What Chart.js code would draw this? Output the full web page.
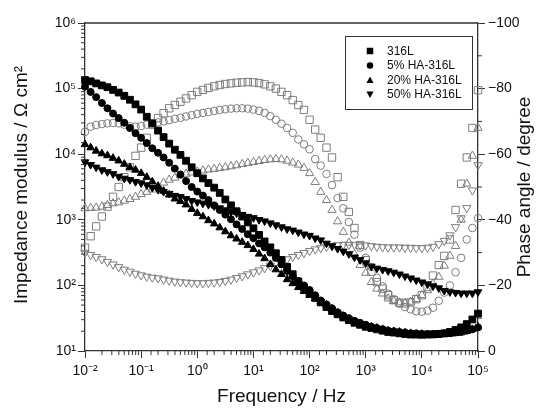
<!DOCTYPE html>
<html>
<head>
<meta charset="utf-8">
<script src="https://cdn.jsdelivr.net/npm/chart.js@4.4.1/dist/chart.umd.min.js"></script>
<style>
  html, body { margin: 0; padding: 0; background: #fff; }
  #wrap { width: 541px; height: 410px; }
</style>
</head>
<body>
<div id="wrap"><canvas id="bode" width="541" height="410"></canvas></div>
<script>
// Frequencies (Hz), 10 points per decade
const frequency = [
  0.01, 0.0126, 0.0158, 0.02, 0.0251, 0.0316, 0.0398, 0.0501, 0.0631, 0.0794,
  0.1, 0.126, 0.158, 0.2, 0.251, 0.316, 0.398, 0.501, 0.631, 0.794,
  1, 1.26, 1.58, 2, 2.51, 3.16, 3.98, 5.01, 6.31, 7.94,
  10, 12.6, 15.8, 20, 25.1, 31.6, 39.8, 50.1, 63.1, 79.4,
  100, 126, 158, 200, 251, 316, 398, 501, 631, 794,
  1000, 1260, 1580, 2000, 2510, 3160, 3980, 5010, 6310, 7940,
  10000, 12600, 15800, 20000, 25100, 31600, 39800, 50100, 63100, 79400,
  100000
];

// Impedance modulus (Ohm cm2)
const modulus316L = [
  135000, 129000, 120000, 112000, 105000, 95500, 87100, 77600, 67600, 57500,
  47900, 37200, 29500, 22900, 18200, 14500, 11700, 9770, 7940, 6310,
  5130, 4270, 3630, 3090, 2570, 2040, 1660, 1350, 1120, 912,
  741, 589, 468, 380, 309, 245, 191, 148, 115, 93.3,
  77.6, 64.6, 55.0, 46.8, 40.7, 36.3, 32.4, 29.5, 26.9, 25.1,
  23.4, 22.4, 21.4, 20.4, 19.5, 19.1, 18.6, 18.2, 17.8, 17.8,
  17.7, 17.8, 17.9, 18.2, 18.6, 19.5, 20.9, 22.9, 25.7, 30.2,
  37.2
];
const modulusHA5 = [
  107000, 89100, 74100, 60300, 50100, 41700, 35500, 30200, 25100, 20900,
  17800, 14800, 12300, 10500, 8910, 7410, 6030, 4900, 3890, 3160,
  2690, 2340, 2000, 1660, 1410, 1200, 1020, 851, 724, 603,
  525, 437, 380, 316, 263, 209, 166, 138, 117, 100,
  85.1, 70.8, 58.9, 51.3, 44.7, 38.9, 34.7, 31.6, 28.8, 26.9,
  25.1, 23.4, 22.4, 21.4, 20.4, 20.0, 19.5, 19.1, 18.6, 18.5,
  18.2, 18.1, 18.2, 18.3, 18.6, 18.7, 19.1, 19.5, 20.4, 21.4,
  22.9
];
const modulusHA20 = [
  14100, 12600, 11200, 10200, 9550, 8710, 7940, 7080, 6310, 5750,
  5130, 4470, 3800, 3240, 2750, 2400, 2090, 1910, 1700, 1450,
  1260, 1120, 977, 871, 759, 661, 575, 513, 457, 407,
  355, 302, 257, 209, 174, 148, 123, 107, 93.3, 81.3,
  70.8, 63.1, 56.2, 50.1, 43.7, 38.0, 33.9, 30.9, 28.2, 26.3,
  24.5, 23.4, 22.4, 21.4, 20.4, 19.9, 19.5, 19.0, 18.6, 18.2,
  18.1, 17.8, 17.7, 17.8, 17.9, 18.2, 18.6, 19.1, 20.0, 21.4,
  23.4
];
const modulusHA50 = [
  7590, 6920, 6310, 5750, 5370, 5010, 4570, 4270, 4070, 3800,
  3630, 3390, 3090, 2880, 2690, 2510, 2340, 2240, 2090, 1950,
  1860, 1780, 1700, 1620, 1510, 1410, 1320, 1260, 1200, 1120,
  1070, 1000, 955, 891, 832, 776, 724, 692, 646, 603,
  575, 525, 490, 437, 398, 363, 331, 302, 269, 245,
  219, 195, 182, 174, 166, 158, 148, 138, 129, 120,
  112, 105, 97.7, 91.2, 83.2, 79.4, 77.6, 75.9, 75.9, 75.9,
  79.4
];

// Phase angle (degree)
const phase316L = [
  -31.5, -35, -38, -41, -44, -47, -50, -53, -56, -59.5,
  -62, -65, -69, -71, -72.5, -74, -75, -76, -77, -78,
  -79, -79.6, -80.2, -80.7, -81.1, -81.4, -81.6, -81.8, -81.9, -82,
  -81.9, -81.7, -81.3, -80.7, -80, -79, -78, -76.5, -75, -73.5,
  -70.5, -67.5, -65, -62, -59, -53, -47, -42.4, -37.5, -32.3,
  -27.7, -24.2, -21, -19, -17, -15.5, -14.7, -14.5, -14.8, -15.8,
  -17, -19.5, -23, -26.2, -29, -34, -43, -51, -59, -68,
  -79.5
];
const phaseHA5 = [
  -66.8, -68.4, -68.9, -69.2, -69.4, -69.5, -69.4, -69, -68.5, -68.4,
  -68.6, -69, -69.4, -69.7, -70, -70.4, -70.8, -71.1, -71.5, -71.9,
  -72.3, -72.6, -72.9, -73.2, -73.5, -73.7, -73.9, -74, -74, -73.9,
  -73.6, -73.2, -72.6, -71.6, -70.5, -69.3, -68, -66.5, -64.5, -63,
  -61.5, -58.5, -56.5, -54, -50.6, -46.6, -43.5, -39.3, -35.5, -31.5,
  -28.4, -25.6, -22.3, -19.7, -17.5, -15.8, -14.4, -13.4, -12.7, -12.1,
  -12, -12.3, -13.2, -15.3, -17.8, -20, -24, -28.4, -34, -37.5,
  -40.5
];
const phaseHA20 = [
  -43.5, -43.6, -43.7, -44, -44.5, -45, -45.3, -45.8, -46.3, -47,
  -47.8, -48.5, -49.2, -50.2, -51.3, -52.2, -52.8, -53.5, -54, -54.4,
  -54.7, -55, -55.3, -55.5, -55.8, -56, -56.3, -56.6, -57, -57.3,
  -57.6, -57.9, -58.2, -58.4, -58.5, -58.4, -58, -57.4, -56.8, -55.8,
  -54.2, -51.5, -48.5, -46, -43, -39.5, -36.3, -33, -29.5, -26.2,
  -23.8, -21, -19, -17.5, -16, -15.2, -14.8, -14.7, -15, -15.8,
  -17, -18.5, -20.5, -22.6, -26, -29, -32, -40, -51, -59.5,
  -68
];
const phaseHA50 = [
  -30, -29.3, -28.7, -28, -27.2, -26.4, -25.6, -24.8, -24.2, -23.6,
  -23.1, -22.7, -22.4, -22.2, -21.8, -21.5, -21.2, -21, -20.9, -20.8,
  -20.7, -20.7, -20.8, -20.9, -21.1, -21.4, -21.8, -22.3, -22.8, -23.4,
  -24, -24.6, -25.3, -26, -26.7, -27.3, -28, -28.7, -29.3, -29.9,
  -30.5, -31, -31.4, -31.8, -32.1, -32.3, -32.4, -32.4, -32.4, -32.3,
  -32.2, -32, -31.8, -31.7, -31.6, -31.6, -31.6, -31.5, -31.5, -31.4,
  -31.4, -31.5, -31.8, -32.6, -33.6, -35.3, -37.8, -40.5, -43.6, -49,
  -56.7
];

const sampleNames = ['316L', '5% HA-316L', '20% HA-316L', '50% HA-316L'];

// Tick labels
const freqDecades = [0.01, 0.1, 1, 10, 100, 1000, 10000, 100000];
const freqDecadeLabels = ['10⁻²', '10⁻¹', '10⁰', '10¹', '10²', '10³', '10⁴', '10⁵'];
const modulusDecades = [10, 100, 1000, 10000, 100000, 1000000];
const modulusDecadeLabels = ['10¹', '10²', '10³', '10⁴', '10⁵', '10⁶'];
const phaseLabelTicks = [-100, -80, -60, -40, -20, 0];
const phaseTickLabels = ['−100', '−80', '−60', '−40', '−20', '0'];

const FONT = "'Liberation Sans', Arial, sans-serif";
const AXIS_COLOR = '#333';
const TEXT_COLOR = '#111';
const OPEN_COLOR = '#7d7d7d';

// marker shapes per sample
const shapes = [
  { style: 'rect', rot: 0, r: 4.8, rOpen: 5.2 },
  { style: 'circle', rot: 0, r: 3.5, rOpen: 3.8 },
  { style: 'triangle', rot: 0, r: 4.4, rOpen: 4.8 },
  { style: 'triangle', rot: 180, r: 4.4, rOpen: 4.8 }
];

function toPoints(ys) {
  return frequency.map((f, i) => ({ x: f, y: ys[i] }));
}

function isDecade(v) {
  const l = Math.log10(v);
  return Math.abs(l - Math.round(l)) < 1e-6;
}

function decadeLabel(v, decades, labels) {
  const i = decades.findIndex(d => Math.abs(Math.log10(d) - Math.log10(v)) < 1e-6);
  return i >= 0 ? labels[i] : '';
}

const modulusSeries = [modulus316L, modulusHA5, modulusHA20, modulusHA50];
const phaseSeries = [phase316L, phaseHA5, phaseHA20, phaseHA50];

const datasets = [];
modulusSeries.forEach((ys, i) => {
  datasets.push({
    label: sampleNames[i],
    data: toPoints(ys),
    yAxisID: 'y',
    pointStyle: shapes[i].style,
    rotation: shapes[i].rot,
    pointRadius: shapes[i].r,
    backgroundColor: '#000',
    borderColor: '#000',
    borderWidth: 1,
    clip: false
  });
});
phaseSeries.forEach((ys, i) => {
  datasets.push({
    label: sampleNames[i] + ' phase',
    data: toPoints(ys),
    yAxisID: 'y2',
    pointStyle: shapes[i].style,
    rotation: shapes[i].rot,
    pointRadius: shapes[i].rOpen,
    backgroundColor: 'rgba(255,255,255,0)',
    borderColor: OPEN_COLOR,
    borderWidth: 1,
    clip: false
  });
});

// draws a legend symbol
function drawSymbol(ctx, shape, x, y, size) {
  ctx.beginPath();
  if (shape.style === 'rect') {
    ctx.rect(x - size / 2, y - size / 2, size, size);
  } else if (shape.style === 'circle') {
    ctx.arc(x, y, size / 2, 0, Math.PI * 2);
  } else {
    const dir = shape.rot === 180 ? -1 : 1;
    ctx.moveTo(x, y - dir * size * 0.55);
    ctx.lineTo(x + size * 0.55, y + dir * size * 0.45);
    ctx.lineTo(x - size * 0.55, y + dir * size * 0.45);
    ctx.closePath();
  }
  ctx.fill();
}

function drawMinorTicks(ctx, scale, isMajor, len) {
  scale.ticks.forEach(t => {
    if (isMajor(t.value)) return;
    const p = scale.getPixelForValue(t.value);
    ctx.beginPath();
    if (scale.isHorizontal()) {
      ctx.moveTo(p, scale.top);
      ctx.lineTo(p, scale.top + len);
    } else if (scale.position === 'left') {
      ctx.moveTo(scale.right, p);
      ctx.lineTo(scale.right - len, p);
    } else {
      ctx.moveTo(scale.left, p);
      ctx.lineTo(scale.left + len, p);
    }
    ctx.stroke();
  });
}

const bodeDecor = {
  id: 'bodeDecor',
  afterDraw(chart) {
    const { ctx, chartArea: a, scales } = chart;
    ctx.save();

    // top frame line
    ctx.strokeStyle = AXIS_COLOR;
    ctx.lineWidth = 1.3;
    ctx.beginPath();
    ctx.moveTo(a.left, a.top);
    ctx.lineTo(a.right, a.top);
    ctx.stroke();

    // minor ticks
    ctx.lineWidth = 1;
    drawMinorTicks(ctx, scales.x, isDecade, 4);
    drawMinorTicks(ctx, scales.y, isDecade, 4);
    drawMinorTicks(ctx, scales.y2, v => v % 20 === 0, 4);

    // axis titles
    ctx.fillStyle = TEXT_COLOR;
    ctx.font = '19px ' + FONT;
    ctx.textAlign = 'center';
    ctx.textBaseline = 'middle';
    ctx.fillText('Frequency / Hz', (a.left + a.right) / 2, 397);

    const midY = (a.top + a.bottom) / 2;
    ctx.save();
    ctx.translate(22, midY - 2);
    ctx.rotate(-Math.PI / 2);
    ctx.fillText('Impedance modulus / Ω cm²', 0, 0);
    ctx.restore();

    ctx.save();
    ctx.translate(525, midY);
    ctx.rotate(-Math.PI / 2);
    ctx.fillText('Phase angle / degree', 0, 0);
    ctx.restore();

    // legend
    const lx = a.right - 133, ly = a.top + 13, lw = 127, lh = 73;
    ctx.strokeStyle = AXIS_COLOR;
    ctx.lineWidth = 1;
    ctx.strokeRect(lx + 0.5, ly + 0.5, lw, lh);
    ctx.font = '12px ' + FONT;
    ctx.textAlign = 'left';
    sampleNames.forEach((name, i) => {
      const yy = ly + 15 + i * 14.5;
      ctx.fillStyle = '#000';
      drawSymbol(ctx, shapes[i], lx + 25, yy, 6.5);
      ctx.fillStyle = TEXT_COLOR;
      ctx.fillText(name, lx + 42, yy + 0.5);
    });

    ctx.restore();
  }
};

const tickFont = { family: FONT, size: 14 };

new Chart(document.getElementById('bode'), {
  type: 'scatter',
  data: { datasets },
  options: {
    responsive: false,
    animation: false,
    layout: { padding: { top: 23, left: 0, right: 0, bottom: 0 } },
    plugins: { legend: { display: false }, tooltip: { enabled: false } },
    scales: {
      x: {
        type: 'logarithmic',
        position: 'bottom',
        min: 0.01,
        max: 100000,
        afterFit: s => { s.height = 59; },
        border: { color: AXIS_COLOR, width: 1.3 },
        grid: {
          drawOnChartArea: false,
          tickLength: 7,
          tickColor: c => (c.tick && isDecade(c.tick.value)) ? AXIS_COLOR : 'rgba(0,0,0,0)'
        },
        ticks: {
          autoSkip: false, maxRotation: 0, minRotation: 0, padding: 5,
          font: tickFont, color: TEXT_COLOR,
          callback: v => decadeLabel(v, freqDecades, freqDecadeLabels)
        }
      },
      y: {
        type: 'logarithmic',
        position: 'left',
        min: 10,
        max: 1000000,
        afterFit: s => { s.width = 85; },
        border: { color: AXIS_COLOR, width: 1.3 },
        grid: {
          drawOnChartArea: false,
          tickLength: 7,
          tickColor: c => (c.tick && isDecade(c.tick.value)) ? AXIS_COLOR : 'rgba(0,0,0,0)'
        },
        ticks: {
          autoSkip: false, padding: 2,
          font: tickFont, color: TEXT_COLOR,
          callback: v => decadeLabel(v, modulusDecades, modulusDecadeLabels)
        }
      },
      y2: {
        type: 'linear',
        position: 'right',
        min: -100,
        max: 0,
        reverse: true,
        afterFit: s => { s.width = 63; },
        border: { color: AXIS_COLOR, width: 1.3 },
        grid: {
          drawOnChartArea: false,
          tickLength: 7,
          tickColor: c => (c.tick && phaseLabelTicks.includes(c.tick.value)) ? AXIS_COLOR : 'rgba(0,0,0,0)'
        },
        ticks: {
          stepSize: 10, autoSkip: false, padding: 3,
          font: tickFont, color: TEXT_COLOR,
          callback: v => {
            const i = phaseLabelTicks.indexOf(v);
            return i >= 0 ? phaseTickLabels[i] : '';
          }
        }
      }
    }
  },
  plugins: [bodeDecor]
});
</script>
</body>
</html>
